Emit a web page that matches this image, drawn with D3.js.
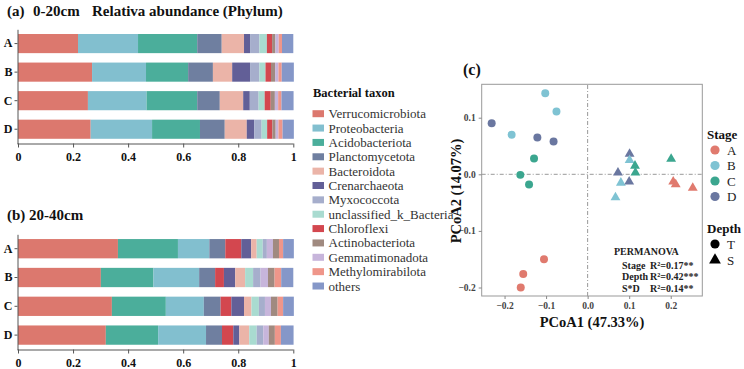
<!DOCTYPE html>
<html>
<head>
<meta charset="utf-8">
<script src="https://cdn.jsdelivr.net/npm/d3@7"></script>
<style>
  body { margin: 0; background: #fff; }
  svg { display: block; font-family: "Liberation Serif", "Times New Roman", serif; }
</style>
</head>
<body>
<div id="chart"></div>
<script>
// taxa in legend order
const taxa = ["Verrucomicrobiota", "Proteobacteria", "Acidobacteriota", "Planctomycetota",
  "Bacteroidota", "Crenarchaeota", "Myxococcota", "unclassified_k_Bacteria", "Chloroflexi",
  "Actinobacteriota", "Gemmatimonadota", "Methylomirabilota", "others"];
const taxaColors = ["#dc786e", "#82bfcf", "#4bae9b", "#6f7fa0", "#ebb4a8", "#625f97",
  "#a6aecc", "#a9dbd0", "#d3474f", "#a08a80", "#c7b5db", "#ef968a", "#8597c8"];
const samples = ["A", "B", "C", "D"];

// relative abundance, one row per sample, columns in legend order
const abundTop = [
  [0.218, 0.218, 0.215, 0.089, 0.081, 0.022, 0.034, 0.027, 0.019, 0.012, 0.012, 0.012, 0.041],
  [0.269, 0.196, 0.153, 0.090, 0.070, 0.065, 0.034, 0.022, 0.020, 0.015, 0.012, 0.012, 0.044],
  [0.254, 0.213, 0.184, 0.082, 0.085, 0.024, 0.032, 0.022, 0.022, 0.015, 0.012, 0.012, 0.044],
  [0.264, 0.223, 0.174, 0.090, 0.080, 0.027, 0.027, 0.020, 0.019, 0.012, 0.010, 0.015, 0.041]
];
const abundSub = [
  [0.363, 0.114, 0.218, 0.058, 0.020, 0.036, 0.015, 0.022, 0.058, 0.022, 0.022, 0.015, 0.039],
  [0.301, 0.166, 0.191, 0.058, 0.036, 0.041, 0.027, 0.029, 0.032, 0.024, 0.027, 0.024, 0.044],
  [0.341, 0.138, 0.196, 0.061, 0.027, 0.046, 0.022, 0.027, 0.039, 0.024, 0.022, 0.020, 0.039],
  [0.319, 0.174, 0.190, 0.058, 0.036, 0.022, 0.024, 0.027, 0.041, 0.022, 0.020, 0.022, 0.046]
];
// stacking order (indices into taxa)
const orderTop = [0, 1, 2, 3, 4, 5, 6, 7, 8, 9, 10, 11, 12];
const orderSub = [0, 2, 1, 3, 8, 5, 4, 7, 6, 10, 9, 11, 12];
const barTicks = [0, 0.2, 0.4, 0.6, 0.8, 1];

// PCoA points
const stages = ["A", "B", "C", "D"];
const stageColors = ["#e07a6e", "#7fc3d3", "#3ba68f", "#6a77a0"];
const pcoa1 = [-0.231, -0.102, -0.075, -0.183, -0.121, -0.082, -0.129, -0.162, -0.141, -0.105, -0.155, -0.161,
  0.101, 0.101, 0.114, 0.115, 0.073, 0.080, 0.100, 0.067, 0.201, 0.206, 0.212, 0.253];
const pcoa2 = [0.090, 0.143, 0.111, 0.070, 0.065, 0.058, 0.028, -0.001, -0.018, -0.150, -0.176, -0.200,
  0.036, 0.025, 0.015, 0.003, 0.003, -0.015, -0.013, -0.041, 0.027, -0.013, -0.018, -0.024];
const pointStage = ["D", "B", "B", "B", "D", "D", "C", "C", "C", "A", "A", "A",
  "D", "B", "C", "C", "D", "B", "D", "B", "C", "A", "A", "A"];
const pointDepth = ["T", "T", "T", "T", "T", "T", "T", "T", "T", "T", "T", "T",
  "S", "S", "S", "S", "S", "S", "S", "S", "S", "S", "S", "S"];
const pcoaTicks = [-0.2, -0.1, 0.0, 0.1, 0.2];
const permanova = [["Stage", "R²=0.17**"], ["Depth", "R²=0.42***"], ["S*D", "R²=0.14**"]];

let svg = d3.select("#chart").append("svg")
  .attr("width", 744)
  .attr("height", 369);

let color = d3.scaleOrdinal().domain(taxa).range(taxaColors);
let x = d3.scaleLinear().domain([0, 1]).range([18, 293.3]);

let drawBars = (values, order, top, bottom) => {
  let rows = samples.map((s, i) => {
    let row = { sample: s };
    taxa.forEach((t, j) => row[t] = values[i][j]);
    return row;
  });
  let stack = d3.stack().keys(order.map(i => taxa[i]));
  let y = d3.scaleBand().domain(samples).range([top, bottom])
    .paddingInner(0.33).paddingOuter(0.165);

  let g = svg.append("g");
  g.selectAll(".layer")
    .data(stack(rows))
    .enter().append("g")
      .attr("fill", d => color(d.key))
    .selectAll("rect")
    .data(d => d)
    .enter().append("rect")
      .attr("x", d => x(d[0]))
      .attr("width", d => x(d[1]) - x(d[0]))
      .attr("y", d => y(d.data.sample))
      .attr("height", y.bandwidth());

  let xAxis = g.append("g")
    .attr("transform", "translate(0," + bottom + ")")
    .call(d3.axisBottom(x).tickValues(barTicks).tickFormat(d3.format("~g")).tickSize(4).tickSizeOuter(0));
  xAxis.select(".domain").attr("d", "M17.5,0.5H" + x(1));
  xAxis.selectAll("text")
    .attr("font-family", "Liberation Serif")
    .attr("font-weight", "bold")
    .attr("font-size", 12)
    .attr("fill", "#111")
    .attr("dy", "0.9em");

  let yAxis = g.append("g")
    .attr("transform", "translate(17.5,0)")
    .call(d3.axisLeft(y).tickSize(3).tickSizeOuter(0));
  yAxis.selectAll("text")
    .attr("font-family", "Liberation Serif")
    .attr("font-weight", "bold")
    .attr("font-size", 12)
    .attr("fill", "#111")
    .attr("x", -5);
  g.selectAll(".domain, .tick line").attr("stroke", "#555");
};

drawBars(abundTop, orderTop, 29.3, 143.5);
drawBars(abundSub, orderSub, 234.3, 349.5);

// panel titles
let title = svg.append("text")
  .attr("y", 16)
  .attr("font-weight", "bold")
  .attr("font-size", 15)
  .attr("fill", "#111");
title.append("tspan").attr("x", 7).text("(a)");
title.append("tspan").attr("x", 33).text("0-20cm");
title.append("tspan").attr("x", 92).text("Relativa abundance (Phylum)");

let titleB = svg.append("text")
  .attr("y", 220)
  .attr("font-weight", "bold")
  .attr("font-size", 15)
  .attr("fill", "#111");
titleB.append("tspan").attr("x", 7).text("(b)");
titleB.append("tspan").attr("x", 29).text("20-40cm");

// taxa legend
svg.append("text")
  .attr("x", 313)
  .attr("y", 97)
  .attr("font-weight", "bold")
  .attr("font-size", 12.5)
  .attr("fill", "#111")
  .text("Bacterial taxon");

let legend = svg.append("g").selectAll("g")
  .data(taxa)
  .enter().append("g")
    .attr("transform", (d, i) => "translate(312.5," + (113.7 + i * 14.36) + ")");
legend.append("rect")
  .attr("x", 0)
  .attr("y", -3.5)
  .attr("width", 11.5)
  .attr("height", 7)
  .attr("fill", d => color(d));
legend.append("text")
  .attr("x", 16)
  .attr("y", 4.5)
  .attr("font-size", 13)
  .attr("fill", "#333")
  .text(d => d);

// PCoA panel
let px = d3.scaleLinear().domain([-0.255, 0.276]).range([481.7, 702.3]);
let py = d3.scaleLinear().domain([-0.215, 0.159]).range([296, 84.3]);
let stageColor = d3.scaleOrdinal().domain(stages).range(stageColors);
let fmt = d3.format(".1f");

let pg = svg.append("g");

pg.append("line")
  .attr("x1", px(0)).attr("x2", px(0))
  .attr("y1", py.range()[0]).attr("y2", py.range()[1])
  .attr("stroke", "#999")
  .attr("stroke-dasharray", "4,2,1,2");
pg.append("line")
  .attr("x1", px.range()[0]).attr("x2", px.range()[1])
  .attr("y1", py(0)).attr("y2", py(0))
  .attr("stroke", "#999")
  .attr("stroke-dasharray", "4,2,1,2");

let pts = pcoa1.map((v, i) => ({ x: v, y: pcoa2[i], stage: pointStage[i], depth: pointDepth[i] }));

pg.selectAll(".pt")
  .data(pts)
  .enter().append("path")
    .attr("class", "pt")
    .attr("transform", d => "translate(" + px(d.x) + "," + py(d.y) + ")")
    .attr("d", d => d3.symbol().type(d.depth == "T" ? d3.symbolCircle : d3.symbolTriangle).size(d.depth == "T" ? 50 : 42)())
    .attr("fill", d => stageColor(d.stage));

pg.append("rect")
  .attr("x", 481.7)
  .attr("y", 84.3)
  .attr("width", 702.3 - 481.7)
  .attr("height", 296 - 84.3)
  .attr("fill", "none")
  .attr("stroke", "#999");

let pxAxis = pg.append("g")
  .attr("transform", "translate(0,296)")
  .call(d3.axisBottom(px).tickValues(pcoaTicks).tickFormat(fmt).tickSize(3).tickSizeOuter(0));
let pyAxis = pg.append("g")
  .attr("transform", "translate(481.7,0)")
  .call(d3.axisLeft(py).tickValues(pcoaTicks.slice(0, 4)).tickFormat(fmt).tickSize(3).tickSizeOuter(0));
pg.selectAll(".domain").remove();
pg.selectAll(".tick line").attr("stroke", "#888");
pg.selectAll(".tick text")
  .attr("font-family", "Liberation Serif")
  .attr("font-weight", "bold")
  .attr("font-size", 9.5)
  .attr("fill", "#444");

svg.append("text")
  .attr("x", 463)
  .attr("y", 75)
  .attr("font-weight", "bold")
  .attr("font-size", 16)
  .attr("fill", "#111")
  .text("(c)");

svg.append("text")
  .attr("x", 592)
  .attr("y", 327)
  .attr("text-anchor", "middle")
  .attr("font-weight", "bold")
  .attr("font-size", 14.5)
  .attr("fill", "#111")
  .text("PCoA1 (47.33%)");

svg.append("text")
  .attr("transform", "translate(461,191) rotate(-90)")
  .attr("text-anchor", "middle")
  .attr("font-weight", "bold")
  .attr("font-size", 14.5)
  .attr("fill", "#111")
  .text("PCoA2 (14.07%)");

// PERMANOVA note
let perm = svg.append("g")
  .attr("font-weight", "bold")
  .attr("font-size", 10)
  .attr("fill", "#222");
perm.append("text").attr("x", 614).attr("y", 254.5).text("PERMANOVA");
perm.selectAll(".row")
  .data(permanova)
  .enter().append("g")
    .each(function (d, i) {
      let yy = 268.5 + i * 11.8;
      d3.select(this).append("text").attr("x", 622).attr("y", yy).text(d[0]);
      d3.select(this).append("text").attr("x", 650).attr("y", yy).text(d[1]);
    });

// stage / depth legend
svg.append("text")
  .attr("x", 707)
  .attr("y", 139)
  .attr("font-weight", "bold")
  .attr("font-size", 13)
  .attr("fill", "#111")
  .text("Stage");

let sl = svg.append("g").selectAll("g")
  .data(stages)
  .enter().append("g")
    .attr("transform", (d, i) => "translate(715," + (150 + i * 15.5) + ")");
sl.append("circle")
  .attr("r", 4.6)
  .attr("fill", d => stageColor(d));
sl.append("text")
  .attr("x", 12)
  .attr("y", 4.5)
  .attr("font-size", 13)
  .attr("fill", "#222")
  .text(d => d);

svg.append("text")
  .attr("x", 707)
  .attr("y", 233)
  .attr("font-weight", "bold")
  .attr("font-size", 13)
  .attr("fill", "#111")
  .text("Depth");

let dl = svg.append("g").selectAll("g")
  .data(["T", "S"])
  .enter().append("g")
    .attr("transform", (d, i) => "translate(715," + (244 + i * 16) + ")");
dl.append("path")
  .attr("d", d => d3.symbol().type(d == "T" ? d3.symbolCircle : d3.symbolTriangle).size(d == "T" ? 66 : 60)())
  .attr("fill", "#000");
dl.append("text")
  .attr("x", 12)
  .attr("y", 4.5)
  .attr("font-size", 13)
  .attr("fill", "#222")
  .text(d => d);
</script>
</body>
</html>
